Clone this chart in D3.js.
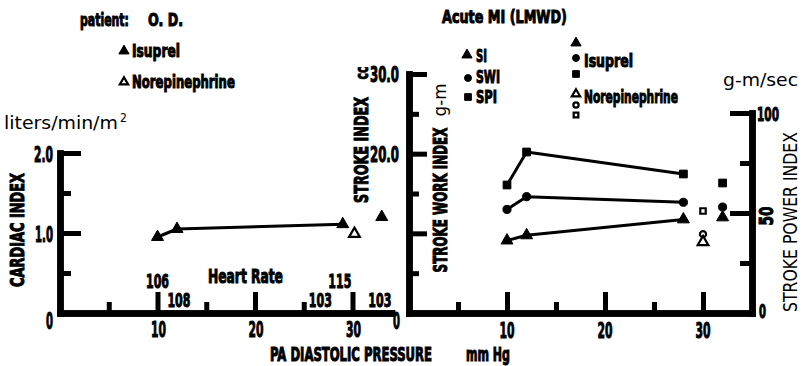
<!DOCTYPE html>
<html><head><meta charset="utf-8">
<script src="https://cdn.jsdelivr.net/npm/d3@7"></script>
<style>
body{margin:0;background:#fff;}
svg{display:block;}
</style></head>
<body>
<svg id="c" width="803" height="366"></svg>
<script>
// ---------- DATA ----------
// Left panel: Cardiac index vs PA diastolic pressure
const ciIsuprelP = [10, 12, 29];
const ciIsuprelV = [0.95, 1.05, 1.11];
const ciIsuprelExtraP = [33];
const ciIsuprelExtraV = [1.2];
const ciNorepiP = [30.2];
const ciNorepiV = [0.99];
// Heart rate annotations
const hrValues = [106, 108, 115, 103, 103];
const hrPressure = [10, 12.2, 28.7, 26.7, 32.8];
const hrRow = [0, 1, 0, 1, 1];
// Right panel
const rIsuprelP = [10, 12, 28];
const siIsuprel = [9.1, 9.75, 11.75];
const swiIsuprel = [13.0, 14.6, 13.9];
const spiIsuprel = [64, 80.5, 69.5];
const rExtraP = [32];
const siExtra = [12.0];
const swiExtra = [13.3];
const spiExtra = [65];
const rNorepiP = [30];
const siNorepi = [8.9];
const swiNorepi = [9.9];
const spiNorepi = [51];
// Ticks
const ciMajor = [1, 2], ciMinor = [0.5, 1.5];
const xMajor = [10, 20, 30], xMinor = [5, 15, 25];
const siMajor = [10, 20, 30], siMinor = [5, 15, 25];
const siLabels = ["", "20.0", "30.0"];
const spiMajor = [50, 100], spiMinor = [25, 75];

// ---------- SCALES ----------
const xL = d3.scaleLinear([0, 34], [60, 391.5]);
const yL = d3.scaleLinear([0, 2], [313, 153]);
const xR = d3.scaleLinear([0, 35], [409, 752]);
const yS = d3.scaleLinear([0, 30], [313, 74]);
const yP = d3.scaleLinear([0, 100], [313, 113]);

const svg = d3.select("#c");
const BOLD = "'DejaVu Sans Condensed','Liberation Sans Narrow',sans-serif";
const REG = "'DejaVu Sans Condensed','DejaVu Sans',sans-serif";

// text drawn at origin, then horizontally scaled to the target width
function txt(s, x, y, o = {}) {
  const t = svg.append("text")
    .attr("x", 0).attr("y", 0)
    .attr("font-family", o.reg ? REG : BOLD)
    .attr("font-weight", o.reg ? "normal" : "bold")
    .attr("font-size", o.size || 17)
    .attr("text-anchor", o.anchor || "start")
    .attr("fill", "#000")
    .text(s);
  if (!o.reg) t.attr("stroke", "#000").attr("stroke-width", o.sw || 1);
  let sx = 1;
  if (o.len) {
    const w = t.node().getComputedTextLength();
    if (w > 0) sx = o.len / w;
  }
  t.attr("transform", `translate(${x},${y}) rotate(${o.rot || 0}) scale(${sx},1)`);
  return t;
}

// ---------- AXES ----------
function styleAxis(g, w) {
  g.selectAll("path.domain").attr("stroke", "#000").attr("stroke-width", w).attr("stroke-linecap", "square");
  g.selectAll(".tick line").attr("stroke", "#000").attr("stroke-width", 5);
  g.selectAll(".tick text").remove();
}
function axis(gen, tx, ty) {
  svg.append("g").attr("transform", `translate(${tx},${ty})`).call(gen).call(g => styleAxis(g, 6.5));
}
axis(d3.axisBottom(xL).tickValues(xMajor).tickSizeInner(-21).tickSizeOuter(0), 0, 313);
axis(d3.axisBottom(xL).tickValues(xMinor).tickSizeInner(-11).tickSizeOuter(0), 0, 313);
axis(d3.axisLeft(yL).tickValues(ciMajor).tickSizeInner(-21).tickSizeOuter(0), xL(0), 0);
axis(d3.axisLeft(yL).tickValues(ciMinor).tickSizeInner(-11).tickSizeOuter(0), xL(0), 0);
axis(d3.axisBottom(xR).tickValues(xMajor).tickSizeInner(-21).tickSizeOuter(0), 0, 313);
axis(d3.axisBottom(xR).tickValues(xMinor).tickSizeInner(-11).tickSizeOuter(0), 0, 313);
axis(d3.axisLeft(yS).tickValues(siMajor).tickSizeInner(-18).tickSizeOuter(0), xR(0), 0);
axis(d3.axisLeft(yS).tickValues(siMinor).tickSizeInner(-10).tickSizeOuter(0), xR(0), 0);
axis(d3.axisRight(yP).tickValues(spiMajor).tickSizeInner(-22).tickSizeOuter(0), xR(35), 0);
axis(d3.axisRight(yP).tickValues(spiMinor).tickSizeInner(-12).tickSizeOuter(0), xR(35), 0);

// ---------- TICK LABELS ----------
txt("2.0", 53, 162, {anchor: "end", size: 21, len: 19});
txt("1.0", 53, 242, {anchor: "end", size: 21, len: 18});
txt("0", 53, 329, {anchor: "end", size: 23, len: 7});
xMajor.forEach(v => txt(String(v), xL(v) + 1, 337, {anchor: "middle", size: 21, len: 15}));
xMajor.forEach(v => txt(String(v), xR(v), 338, {anchor: "middle", size: 21, len: 15}));
siMajor.forEach((v, i) => { if (siLabels[i]) txt(siLabels[i], 399, yS(v) + 8, {anchor: "end", size: 21, len: 29}); });
txt("0", 400, 329, {anchor: "end", size: 23, len: 7});
txt("100", 757, yP(100) + 8, {size: 19, len: 22});
txt("50", 773, yP(50) + 3, {size: 19, len: 19, rot: -90, anchor: "middle"});
txt("0", 759, 318, {size: 19, len: 7});

// ---------- AXIS TITLES ----------
txt("CARDIAC INDEX", 24, 230, {anchor: "middle", size: 20, len: 114, rot: -90});
txt("liters/min/m", 4, 129, {reg: true, size: 18, len: 114});
txt("2", 120, 122, {reg: true, size: 12});
txt("STROKE INDEX", 368, 150, {anchor: "middle", size: 19, len: 106, rot: -90});
txt("cc", 368, 73, {anchor: "middle", size: 18, len: 13, rot: -90});
txt("STROKE WORK INDEX", 447, 200, {anchor: "middle", size: 19, len: 145, rot: -90});
txt("g-m", 446, 100, {reg: true, anchor: "middle", size: 17, len: 33, rot: -90});
txt("STROKE POWER INDEX", 797, 222, {reg: true, anchor: "middle", size: 19, len: 180, rot: -90});
txt("g-m/sec", 723, 86, {reg: true, size: 18, len: 75});
txt("PA DIASTOLIC PRESSURE", 270, 361, {size: 19, len: 162});
txt("mm Hg", 466, 361, {size: 19, len: 44});

// ---------- TITLES & LEGENDS ----------
txt("patient:", 80, 26, {size: 18, len: 49});
txt("O.  D.", 148, 26, {size: 18, len: 35});
txt("Acute MI (LMWD)", 442, 23, {size: 18, len: 125});
txt("Isuprel", 132, 57, {size: 18, len: 48});
txt("Norepinephrine", 132, 88, {size: 18, len: 103});
txt("SI", 476, 62, {size: 18, len: 11});
txt("SWI", 476, 83, {size: 18, len: 24});
txt("SPI", 476, 103, {size: 18, len: 21});
txt("Isuprel", 584, 67, {size: 18, len: 49});
txt("Norepinephrine", 584, 103, {size: 18, len: 94});

// Heart rate annotations
txt("Heart Rate", 208, 283, {size: 19, len: 75});
hrValues.forEach((v, i) => {
  txt(String(v), xL(hrPressure[i]), hrRow[i] ? 307 : 288, {anchor: "middle", size: 20, len: 23});
});

// ---------- MARKS ----------
const tri = d3.symbol(d3.symbolTriangle, 62)();
const triS = d3.symbol(d3.symbolTriangle, 45)();
const cir = d3.symbol(d3.symbolCircle, 52)();
const cirS = d3.symbol(d3.symbolCircle, 38)();
const sq = d3.symbol(d3.symbolSquare, 60)();
const sqS = d3.symbol(d3.symbolSquare, 45)();
const triO = d3.symbol(d3.symbolTriangle, 50)();
const triOS = d3.symbol(d3.symbolTriangle, 30)();
const cirO = d3.symbol(d3.symbolCircle, 30)();
const cirOS = d3.symbol(d3.symbolCircle, 22)();
const sqO = d3.symbol(d3.symbolSquare, 30)();
const sqOS = d3.symbol(d3.symbolSquare, 22)();

function line(xs, ys, xsc, ysc) {
  svg.append("path")
    .attr("d", d3.line().x((d, i) => xsc(xs[i])).y((d, i) => ysc(ys[i]))(xs))
    .attr("fill", "none").attr("stroke", "#000").attr("stroke-width", 3)
    .attr("stroke-linejoin", "round");
}
function pts(xs, ys, xsc, ysc, shape, open) {
  xs.forEach((x, i) => {
    svg.append("path").attr("d", shape)
      .attr("transform", `translate(${xsc(x)},${ysc(ys[i])})`)
      .attr("fill", open ? "#fff" : "#000")
      .attr("stroke", "#000").attr("stroke-width", open ? 2.2 : 1);
  });
}
function sym(shape, x, y, open) {
  svg.append("path").attr("d", shape).attr("transform", `translate(${x},${y})`)
    .attr("fill", open ? "#fff" : "#000").attr("stroke", "#000").attr("stroke-width", open ? 2.2 : 1);
}

// left panel
line(ciIsuprelP, ciIsuprelV, xL, yL);
pts(ciIsuprelP, ciIsuprelV, xL, yL, tri, false);
pts(ciIsuprelExtraP, ciIsuprelExtraV, xL, yL, tri, false);
pts(ciNorepiP, ciNorepiV, xL, yL, triO, true);

// right panel
line(rIsuprelP, spiIsuprel, xR, yP);
line(rIsuprelP, swiIsuprel, xR, yS);
line(rIsuprelP, siIsuprel, xR, yS);
pts(rIsuprelP, spiIsuprel, xR, yP, sq, false);
pts(rIsuprelP, swiIsuprel, xR, yS, cir, false);
pts(rIsuprelP, siIsuprel, xR, yS, tri, false);
pts(rExtraP, spiExtra, xR, yP, sq, false);
pts(rExtraP, swiExtra, xR, yS, cir, false);
pts(rExtraP, siExtra, xR, yS, tri, false);
pts(rNorepiP, spiNorepi, xR, yP, sqO, true);
pts(rNorepiP, swiNorepi, xR, yS, cirO, true);
pts(rNorepiP, siNorepi, xR, yS, triO, true);

// legend symbols
sym(triS, 124, 51, false);
sym(triOS, 124, 82, true);
sym(triS, 467, 55, false);
sym(cirS, 468, 78, false);
sym(sqS, 468, 97, false);
sym(triS, 576, 43, false);
sym(cirS, 576, 58, false);
sym(sqS, 576, 74, false);
sym(triOS, 576, 94, true);
sym(cirOS, 576, 105, true);
sym(sqOS, 576, 115, true);
</script>
</body></html>
